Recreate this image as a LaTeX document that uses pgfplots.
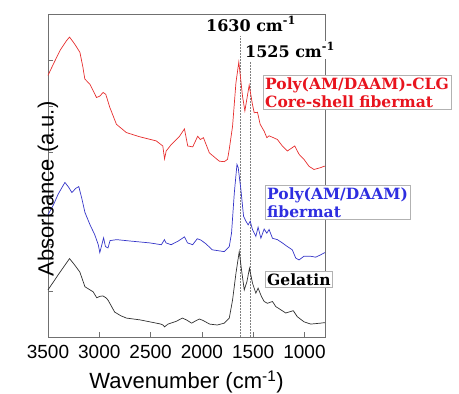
\documentclass[border=0pt]{standalone}
\usepackage{fontspec}
\setmainfont{Liberation Sans}
\newfontfamily\serifb{DejaVu Serif}
\usepackage{pgfplots}
\pgfplotsset{compat=1.18}
\definecolor{cred}{HTML}{E62E2E}
\definecolor{cblue}{HTML}{3535C8}
\definecolor{cblack}{HTML}{303030}
\definecolor{tred}{HTML}{E8141E}
\definecolor{tblue}{HTML}{2E2EE0}
\definecolor{axgray}{HTML}{707070}
\pgfplotstableread{
x y
3500 5.67
3440 5.95
3380 6.22
3320 6.42
3290 6.50
3240 6.35
3189 6.17
3160 5.85
3141 5.59
3092 5.48
3027 5.19
2995 5.22
2963 5.30
2937 5.26
2898 4.98
2833 4.61
2736 4.43
2607 4.34
2445 4.25
2381 4.14
2364 3.86
2348 4.03
2299 4.17
2218 4.35
2170 4.51
2138 4.14
2089 4.12
2041 4.35
2015 4.28
1985 4.32
1927 3.99
1830 3.81
1782 3.80
1750 3.85
1733 4.07
1701 4.57
1668 5.51
1640 5.96
1604 5.22
1581 4.90
1539 5.46
1507 5.04
1490 4.86
1458 4.87
1432 4.61
1393 4.46
1367 4.32
1345 4.36
1303 4.32
1264 4.28
1216 4.14
1167 4.03
1095 4.14
1053 3.96
1005 3.85
956 3.70
908 3.63
843 3.67
810 3.70
800 3.70
}\redtab
\pgfplotstableread{
x y
3500 2.65
3450 2.85
3400 3.10
3335 3.35
3300 3.25
3267 3.13
3230 3.22
3200 3.26
3170 3.00
3140 2.70
3090 2.43
3045 2.22
3010 2.00
2995 1.83
2975 2.00
2958 2.15
2940 1.96
2915 1.93
2895 2.09
2830 2.11
2700 2.08
2510 2.04
2395 2.00
2365 2.11
2350 2.04
2300 2.00
2230 2.08
2170 2.17
2140 2.04
2090 2.00
2045 2.13
2010 2.10
1960 2.02
1900 1.89
1782 1.85
1733 1.96
1711 2.25
1684 3.12
1658 3.74
1646 3.67
1620 3.20
1594 2.62
1571 2.51
1549 2.43
1529 2.51
1507 2.33
1474 2.18
1452 2.38
1425 2.14
1393 2.34
1367 2.25
1345 2.33
1312 2.14
1264 2.11
1216 2.04
1167 1.96
1119 1.89
1085 1.71
1053 1.67
1005 1.75
940 1.75
891 1.73
843 1.78
810 1.82
800 1.83
}\bluetab
\pgfplotstableread{
x y
3500 1.02
3400 1.35
3290 1.70
3240 1.56
3190 1.41
3140 1.09
3090 1.02
3060 0.98
3025 0.85
2995 0.88
2965 0.89
2935 0.85
2915 0.80
2850 0.54
2790 0.46
2735 0.41
2600 0.37
2510 0.33
2400 0.28
2380 0.26
2364 0.22
2330 0.28
2250 0.34
2190 0.41
2150 0.37
2100 0.30
2060 0.35
2025 0.39
1990 0.36
1925 0.28
1850 0.26
1782 0.30
1733 0.41
1701 0.80
1668 1.38
1636 1.85
1614 1.46
1587 1.02
1561 1.20
1536 1.49
1507 1.17
1474 0.95
1452 1.06
1420 0.88
1393 0.77
1361 0.73
1312 0.77
1280 0.66
1231 0.59
1183 0.52
1109 0.57
1070 0.44
1005 0.33
940 0.28
843 0.30
810 0.31
800 0.31
}\blacktab
\begin{document}
\begin{tikzpicture}[x=1pt,y=1pt]
\useasboundingbox (-48,-57) rectangle (411,337);
\begin{axis}[
  scale only axis, width=277pt, height=323pt,
  at={(0pt,0pt)}, anchor=south west,
  x dir=reverse, xmin=800, xmax=3500, ymin=0, ymax=7,
  xtick={1000,1500,2000,2500,3000,3500},
  ytick={1,2,3,4,5,6}, yticklabels={},
  tick pos=left, tick align=inside, major tick length=5pt,
  tick style={axgray, line width=0.5pt},
  axis line style={axgray, line width=0.8pt},
  /pgf/number format/assume math mode=true,
  /pgf/number format/1000 sep={},
  xticklabel style={font=\fontsize{19}{19}\selectfont, yshift=-5pt},
  xlabel={Wavenumber (cm\textsuperscript{-1})},
  ylabel={Absorbance (a.u.)},
  xlabel style={font=\fontsize{22}{22}\selectfont, at={(axis description cs:0.5,0)}, anchor=center, yshift=-45pt},
  ylabel style={font=\fontsize{22}{22}\selectfont, at={(axis description cs:0,0.545)}, anchor=center, xshift=-28pt},
  clip=false,
]
\draw[gray, line width=0.4pt, dash pattern=on 1.5pt off 1.5pt] (axis cs:1630,0) -- (axis cs:1630,6.52);
\draw[gray, line width=0.4pt, dash pattern=on 1.5pt off 1.5pt] (axis cs:1525,0) -- (axis cs:1525,5.98);
\addplot[cred, line width=0.7pt] table[x=x,y=y] {\redtab};
\addplot[cblue, line width=0.7pt] table[x=x,y=y] {\bluetab};
\addplot[cblack, line width=0.7pt] table[x=x,y=y] {\blacktab};
\end{axis}
\node[fill=white, inner sep=2pt, font=\serifb\bfseries\fontsize{16}{16}\selectfont] at (203,313) {1630 cm\textsuperscript{-1}};
\node[fill=white, inner sep=2pt, font=\serifb\bfseries\fontsize{16}{16}\selectfont] at (242,287) {1525 cm\textsuperscript{-1}};
\node[draw=gray!60, fill=white, anchor=west, align=left, inner sep=2pt, text=tred, font=\serifb\bfseries\fontsize{15.5}{18}\selectfont] at (215,244.5) {Poly(AM/DAAM)-CLG\\Core-shell fibermat};
\node[draw=gray!60, fill=white, anchor=west, align=left, inner sep=2pt, text=tblue, font=\serifb\bfseries\fontsize{15.5}{18}\selectfont] at (217,134.5) {Poly(AM/DAAM)\\fibermat};
\node[draw=gray!60, fill=white, anchor=west, align=left, inner sep=2pt, text=black, font=\serifb\bfseries\fontsize{15.5}{18}\selectfont] at (217,57.5) {Gelatin};
\end{tikzpicture}
\end{document}
